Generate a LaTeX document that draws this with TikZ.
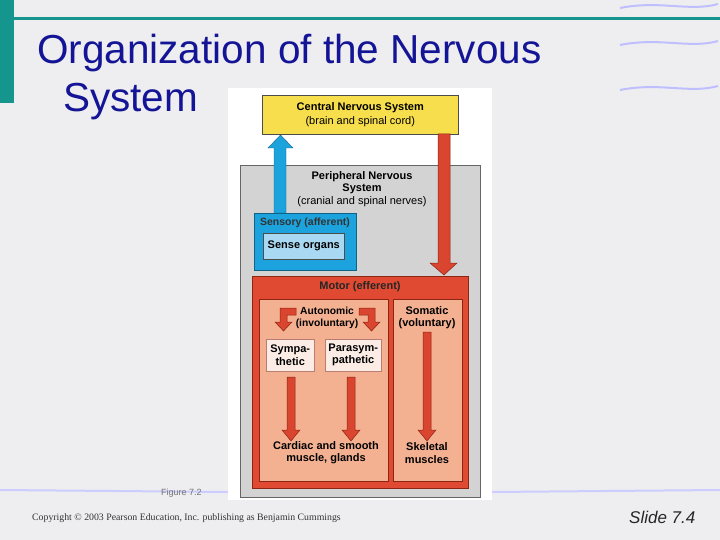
\documentclass[tikz,border=0pt]{standalone}
\usepackage{fontspec}
\setmainfont{Liberation Sans}
\newfontfamily\seriff{Liberation Serif}
\begin{document}
\begin{tikzpicture}[x=1pt,y=-1pt,
  lab/.style={font=\fontsize{11}{12.3}\selectfont\bfseries, align=center, text=black, inner sep=0pt},
  redarrow/.style={fill=arrred, draw=arrdark, line width=0.5pt},
  box/.style={draw=black!70, line width=0.6pt}]
\definecolor{bg}{HTML}{EEEEF0}
\definecolor{teal}{HTML}{14958E}
\definecolor{ttl}{HTML}{141496}
\definecolor{cnsy}{HTML}{F6DE4C}
\definecolor{pnsg}{HTML}{D3D3D3}
\definecolor{sensb}{HTML}{1CA3DE}
\definecolor{sensl}{HTML}{A9D9F2}
\definecolor{motr}{HTML}{E04A32}
\definecolor{salm}{HTML}{F4B192}
\definecolor{pale}{HTML}{FBEDE6}
\definecolor{arrred}{HTML}{D9452E}
\definecolor{arrdark}{HTML}{8E2414}
\useasboundingbox (0,0) rectangle (720,540);
\fill[bg] (0,0) rectangle (720,540);
% swooshes
\foreach \y in {8,45,90} {\draw[blue!25, line width=2pt] (620,\y) .. controls (660,\y-8) and (690,\y+4) .. (718,\y-4);}
\draw[blue!20, line width=2pt] (0,490) -- (228,492);
\draw[blue!20, line width=2pt] (492,492) -- (720,490);
\fill[teal] (0,0) rectangle (14,103);
\fill[teal] (14,17) rectangle (720,20);
% title
\node[anchor=west, font=\fontsize{40.5}{44}\selectfont, text=ttl, inner sep=0pt] (t1) at (37,53) {Organization of the Nervous};
\node[anchor=west, font=\fontsize{40.5}{44}\selectfont, text=ttl, inner sep=0pt] (t2) at (63,102) {System};
% figure panel
\fill[white] (228,88) rectangle (492,500);
\fill[pnsg, draw=black!60] (240,165) rectangle (480,497);
\node[box, fill=cnsy, minimum width=196pt, minimum height=39pt, anchor=north west] (cns) at (262,95) {};
\node[lab] at (cns.center) {Central Nervous System\\[1pt]\mdseries(brain and spinal cord)};
\node[lab] (pns) at (362,189) {Peripheral Nervous\\System\\\mdseries(cranial and spinal nerves)};
% sensory
\fill[sensb, draw=sensb!60!black] (254,213) rectangle (356,270);
\node[lab, text=black!80, font=\fontsize{10.5}{12}\selectfont\bfseries] (sens) at (305,223) {Sensory (afferent)};
\node[box, fill=sensl, minimum width=81pt, minimum height=26pt, anchor=north west] (so) at (263,233) {};
\node[lab] at (so.center) {Sense organs};
\fill[sensb, draw=sensb!60!black] (274,213) -- (274,148) -- (268,148) -- (280.5,135) -- (293,148) -- (286,148) -- (286,213) -- cycle;
% red arrow to motor
\fill[redarrow] (438,134) -- (450,134) -- (450,263) -- (457,263) -- (444,275) -- (430,263) -- (438,263) -- cycle;
% motor
\fill[motr, draw=arrdark] (252,276) rectangle (468,488);
\node[lab, text=black!85] (mot) at (360,287) {Motor (efferent)};
\fill[salm, draw=arrdark] (259,299) rectangle (388,481);
\fill[salm, draw=arrdark] (393,299) rectangle (462,481);
\node[lab, font=\fontsize{10.3}{12}\selectfont\bfseries] (aut) at (327,318) {Autonomic\\(involuntary)};
\node[lab] (som) at (427,318) {Somatic\\(voluntary)};
\node[fill=pale, draw=arrdark!60, minimum width=48pt, minimum height=32pt, anchor=north west] (sym) at (266,339) {};
\node[lab] at (sym.center) {Sympa-\\thetic};
\node[fill=pale, draw=arrdark!60, minimum width=56pt, minimum height=32pt, anchor=north west] (par) at (325,339) {};
\node[lab] at (par.center) {Parasym-\\pathetic};
% bent arrows
\fill[redarrow] (296,308) -- (280,308) -- (280,322) -- (275,322) -- (283.5,331) -- (292,322) -- (287,322) -- (287,315) -- (296,315) -- cycle;
\fill[redarrow] (359,308) -- (375,308) -- (375,322) -- (380,322) -- (371.5,331) -- (363,322) -- (368,322) -- (368,315) -- (359,315) -- cycle;
% vertical arrows
\foreach \x/\t in {291/377, 351/377, 427/332} {
 \fill[redarrow] (\x-4,\t) -- (\x+4,\t) -- (\x+4,430) -- (\x+9,430) -- (\x,441) -- (\x-9,430) -- (\x-4,430) -- cycle;}
\node[lab] (card) at (326,453) {Cardiac and smooth\\muscle, glands};
\node[lab] (skel) at (427,453) {Skeletal\\muscles};
% footer
\node[anchor=west, font=\fontsize{9}{10}\selectfont, text=black!55, inner sep=0pt] (fig) at (161,493) {Figure 7.2};
\node[anchor=west, font=\seriff\fontsize{9.8}{11}\selectfont, text=black!80, inner sep=0pt] (copy) at (32,518) {Copyright © 2003 Pearson Education, Inc. publishing as Benjamin Cummings};
\node[anchor=west, font=\itshape\fontsize{17}{19}\selectfont, text=black!85, inner sep=0pt] (sl) at (629,517) {Slide 7.4};
\end{tikzpicture}
\end{document}
